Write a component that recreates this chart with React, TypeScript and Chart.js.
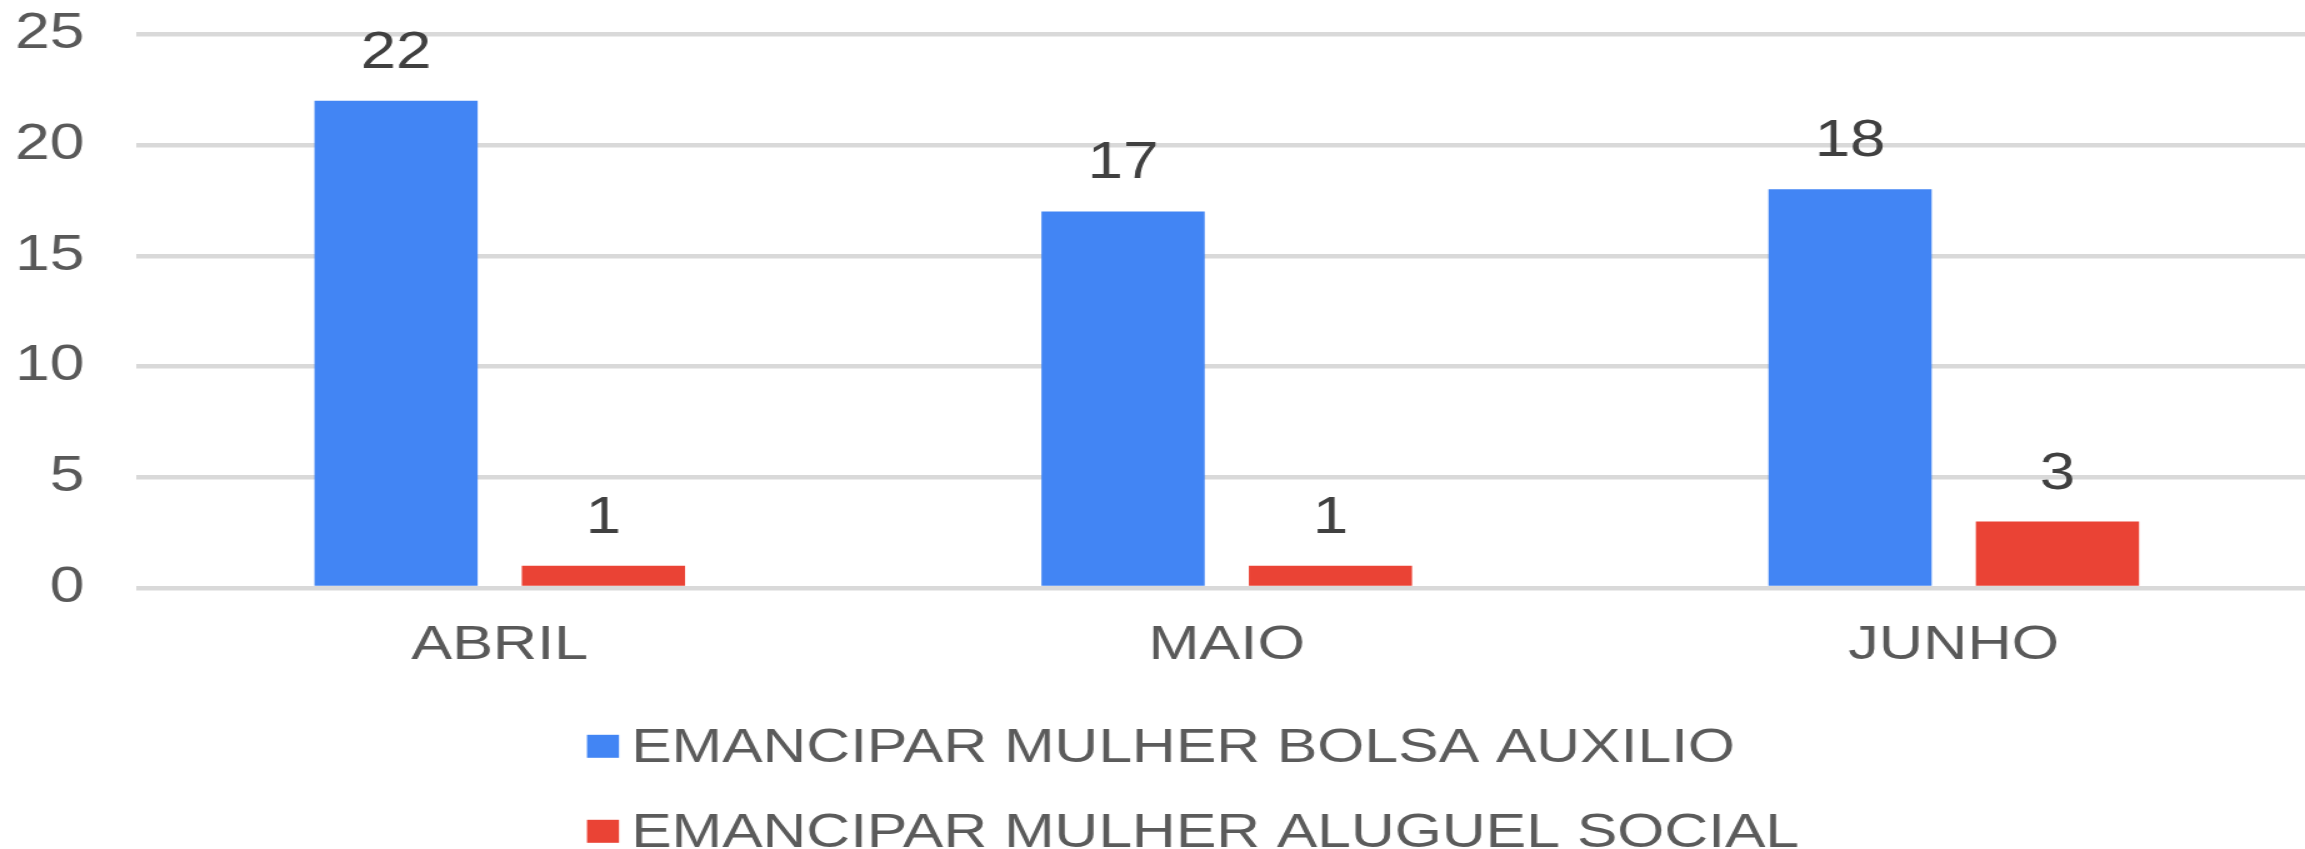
import React, { useEffect, useRef } from "react";
import { Chart, registerables } from "chart.js";

Chart.register(...registerables);

// ---- data ----
const categories = ["ABRIL", "MAIO", "JUNHO"];
const bolsaAuxilio = [22, 17, 18];
const aluguelSocial = [1, 1, 3];
const seriesLabels = ["EMANCIPAR MULHER BOLSA AUXILIO", "EMANCIPAR MULHER ALUGUEL SOCIAL"];
const seriesColors = ["#4285f4", "#ea4335"];
const yTicks = [0, 5, 10, 15, 20, 25];

// ---- styling / layout ----
const FONT = "'Liberation Sans', Arial, Helvetica, sans-serif";
const STRETCH = 1.25; // the reference is horizontally stretched
const CANVAS_W = 1856;
const CANVAS_H = 849;

const dataLabelPlugin = {
  id: "barValueLabels",
  afterDatasetsDraw(chart: any) {
    const ctx = chart.ctx;
    ctx.save();
    ctx.font = `51px ${FONT}`;
    ctx.fillStyle = "#404040";
    ctx.textAlign = "center";
    ctx.textBaseline = "alphabetic";
    chart.data.datasets.forEach((ds: any, i: number) => {
      const meta = chart.getDatasetMeta(i);
      meta.data.forEach((bar: any, j: number) => {
        ctx.fillText(String(ds.data[j]), bar.x, bar.y - 33);
      });
    });
    ctx.restore();
  },
};

const legendPlugin = {
  id: "sheetLegend",
  afterDraw(chart: any) {
    const ctx = chart.ctx;
    ctx.save();
    ctx.font = `48.5px ${FONT}`;
    ctx.textAlign = "left";
    ctx.textBaseline = "alphabetic";
    chart.data.datasets.forEach((ds: any, i: number) => {
      const baseY = 762.3 + i * 85;
      ctx.fillStyle = ds.backgroundColor;
      ctx.fillRect(469.6, baseY - 16 - 11.5, 25.6, 23);
      ctx.fillStyle = "#5b5b5b";
      ctx.fillText(ds.label, 505, baseY);
    });
    ctx.restore();
  },
};

export default function App() {
  const canvasRef = useRef<HTMLCanvasElement | null>(null);

  useEffect(() => {
    if (!canvasRef.current) return;
    const chart = new Chart(canvasRef.current, {
      type: "bar",
      data: {
        labels: categories,
        datasets: [
          {
            label: seriesLabels[0],
            data: bolsaAuxilio,
            backgroundColor: seriesColors[0],
            categoryPercentage: 0.5705,
            barPercentage: 0.787,
          },
          {
            label: seriesLabels[1],
            data: aluguelSocial,
            backgroundColor: seriesColors[1],
            categoryPercentage: 0.5705,
            barPercentage: 0.787,
          },
        ],
      },
      options: {
        responsive: false,
        maintainAspectRatio: false,
        animation: false,
        devicePixelRatio: 1,
        layout: { padding: { top: 0, left: 0, right: 2.2, bottom: 170 } },
        plugins: {
          legend: { display: false },
          tooltip: { enabled: false },
        },
        scales: {
          x: {
            grid: { display: false, drawTicks: false },
            border: { display: false },
            ticks: {
              color: "#595959",
              font: { family: FONT, size: 49, lineHeight: 1 },
              padding: 32.6,
              maxRotation: 0,
              autoSkip: false,
            },
            afterFit: (scale: any) => {
              scale.height = 91;
            },
          },
          y: {
            min: yTicks[0],
            max: yTicks[yTicks.length - 1],
            grid: {
              color: "#d9d9d9",
              lineWidth: 4.5,
              drawTicks: true,
              tickLength: 41.5,
              tickColor: "rgba(0,0,0,0)",
            },
            border: { display: false },
            ticks: {
              stepSize: yTicks[1] - yTicks[0],
              color: "#595959",
              font: { family: FONT, size: 50, lineHeight: 1.372 },
              padding: 0,
            },
            afterBuildTicks: (scale: any) => {
              scale.ticks = yTicks.map((v) => ({ value: v }));
            },
            afterFit: (scale: any) => {
              scale.width = 109;
            },
          },
        },
      },
      plugins: [dataLabelPlugin, legendPlugin],
    } as any);
    return () => chart.destroy();
  }, []);

  return (
    <div
      style={{
        position: "fixed",
        left: 0,
        top: 0,
        width: 2305,
        height: 849,
        overflow: "hidden",
        background: "#ffffff",
      }}
    >
      <canvas
        ref={canvasRef}
        width={CANVAS_W}
        height={CANVAS_H}
        style={{ width: `${CANVAS_W * STRETCH}px`, height: `${CANVAS_H}px`, display: "block" }}
      />
    </div>
  );
}
